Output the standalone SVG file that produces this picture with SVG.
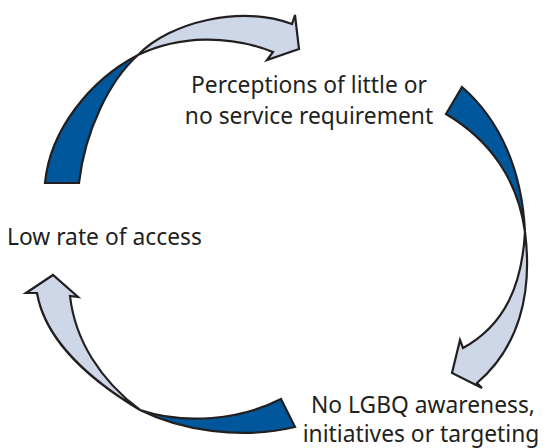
<svg xmlns="http://www.w3.org/2000/svg" width="549" height="448" viewBox="0 0 549 448">
<style>
.dark{fill:#00579B;stroke:#231F20;stroke-width:2.2;stroke-linejoin:miter}
.light{fill:#CDD7E8;stroke:#231F20;stroke-width:2.2;stroke-linejoin:miter}
.lbl{font-family:"Noto Sans","Open Sans",sans-serif;font-size:22.8px;fill:#231F20}
</style>
<rect width="549" height="448" fill="#ffffff"/>
<g id="connectors">
<g id="arrow-top">
<path class="dark" d="M45,183 C50,130 90,80 138,55 C110,80 85,130 79,183 Z"/>
<path class="light" d="M138,55 C170,22 240,5 292,24 L295,15 L299,49 L267,60 L273,52 C230,35 180,35 138,55 Z"/>
</g>
<g id="arrow-right">
<path class="dark" d="M462,87 C500,120 522,170 525,232 C518,180 490,140 446,114 Z"/>
<path class="light" d="M525,232 C533,295 518,348 477,383 L482,388 L452,373 L460,340 L463,348 C505,325 522,285 525,232 Z"/>
</g>
<g id="arrow-bottom">
<path class="dark" d="M281,399 C240,420 185,425 140,410 C180,430 240,440 295,427 Z"/>
<path class="light" d="M140,410 C90,380 45,340 37,293 L26,293 L53,275 L78,297 L70,296 C75,340 100,380 140,410 Z"/>
</g>
</g>
<g id="node-perceptions">
<text class="lbl" x="309" y="93" text-anchor="middle">Perceptions of little or</text>
<text class="lbl" x="309" y="124" text-anchor="middle">no service requirement</text>
</g>
<g id="node-access">
<text class="lbl" x="7" y="245">Low rate of access</text>
</g>
<g id="node-lgbq">
<text class="lbl" x="423" y="413" text-anchor="middle">No LGBQ awareness,</text>
<text class="lbl" x="421" y="442" text-anchor="middle">initiatives or targeting</text>
</g>
</svg>
